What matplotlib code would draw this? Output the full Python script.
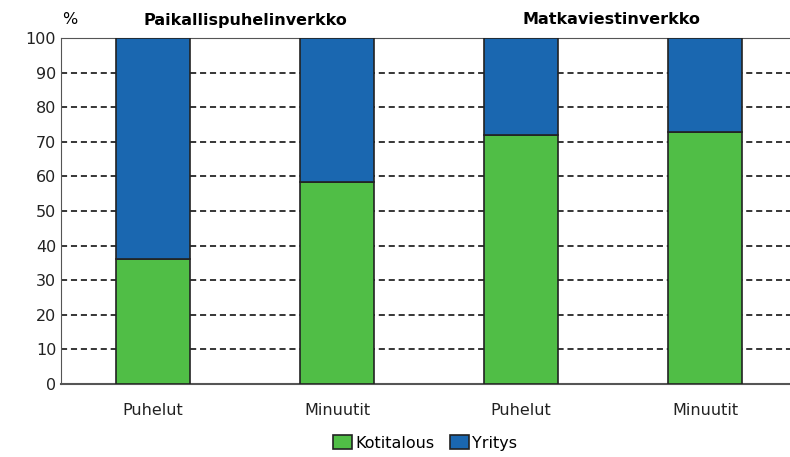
import numpy as np
import matplotlib.pyplot as plt

categories = ["Puhelut", "Minuutit", "Puhelut", "Minuutit"]
groups = ["Paikallispuhelinverkko", "Matkaviestinverkko"]
kotitalous = [36, 58.5, 72, 72.8]
yritys = [100 - v for v in kotitalous]

fig = plt.figure(figsize=(7.9, 4.57), dpi=100)
ax = fig.add_axes([61 / 790, 1 - 384 / 457, 736 / 790, 346 / 457])

x = np.arange(len(categories))
ax.bar(x, kotitalous, width=0.4, color="#50BE46", edgecolor="#222222",
       linewidth=1.2, label="Kotitalous", zorder=3)
ax.bar(x, yritys, width=0.4, bottom=kotitalous, color="#1A67B0",
       edgecolor="#222222", linewidth=1.2, label="Yritys", zorder=3)

ax.set_xlim(-0.5, 3.5)
ax.set_ylim(0, 100)
ax.set_yticks(range(0, 101, 10))
ax.set_xticks(x)
ax.set_xticklabels(categories)
ax.tick_params(labelsize=11.5, length=0, colors="#222222")
ax.tick_params(axis="x", pad=14)
ax.grid(axis="y", linestyle=(0, (4, 2.5)), color="black", linewidth=1.1,
        zorder=0)
ax.spines["right"].set_visible(False)
ax.spines["top"].set_color("#555555")
ax.spines["left"].set_color("#555555")
ax.spines["bottom"].set_color("#555555")
ax.spines["bottom"].set_linewidth(1.5)

fig.text(70 / 790, 1 - 20 / 457, "%", fontsize=11.5, ha="center", va="center")
fig.text(245 / 790, 1 - 20 / 457, groups[0], fontsize=11.5, fontweight="bold",
         ha="center", va="center")
fig.text(612 / 790, 1 - 20 / 457, groups[1], fontsize=11.5, fontweight="bold",
         ha="center", va="center")

fig.legend(loc="center", bbox_to_anchor=(425 / 790, 1 - 443 / 457), ncol=2,
           frameon=False, fontsize=11.5, handlelength=1.2, handleheight=0.9,
           handletextpad=0.2, columnspacing=1.0)

fig.savefig("out.png")
